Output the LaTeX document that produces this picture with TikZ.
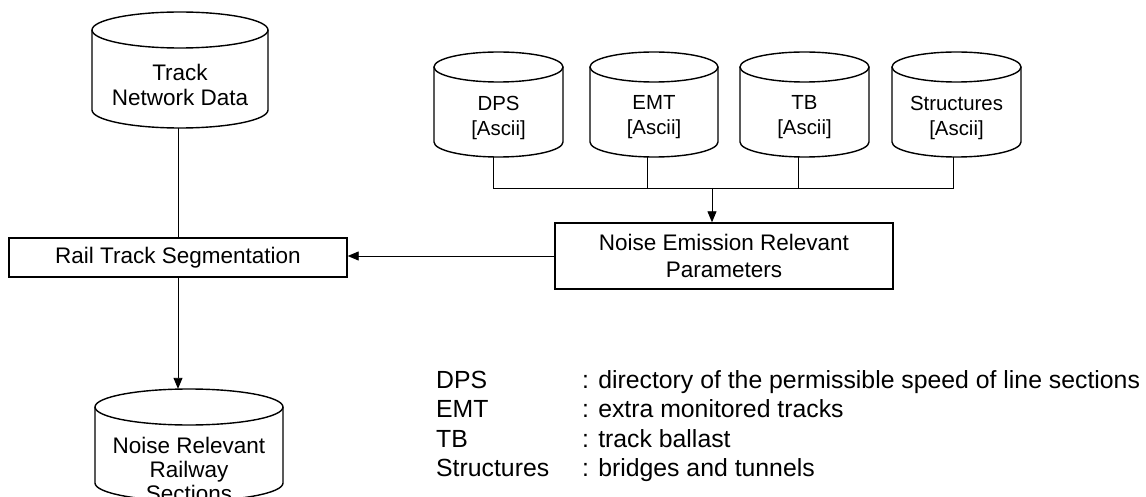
\documentclass[tikz,border=0pt]{standalone}
\usepackage{fontspec}
\setmainfont{Liberation Sans}
\usetikzlibrary{arrows.meta}
\tikzset{
  cylline/.style={line width=1.4pt, black},
  cylbox/.style={inner sep=0pt, draw=none},
  cyltext/.style={align=center, font=\fontsize{22.5}{25}\selectfont, inner sep=0pt},
  cyltextb/.style={align=center, font=\fontsize{22.5}{24}\selectfont, inner sep=0pt},
  smalltext/.style={align=center, font=\fontsize{20.4}{25}\selectfont, inner sep=0pt},
  procbox/.style={draw, line width=1.4pt, inner sep=0pt, align=center, font=\fontsize{22.5}{27}\selectfont},
  conn/.style={line width=0.9pt},
  arr/.style={conn, -{Triangle[length=11pt,width=9pt]}},
  legend/.style={anchor=base west, inner sep=0pt, font=\fontsize{24.8}{29}\selectfont},
}
% name, left, right, top-ellipse y, bottom-ellipse y, ry, text y, text style, text
\newcommand{\dbcyl}[9]{%
  \node[cylbox, minimum width={(#3-#2)*1pt}, minimum height={(#5-#4+2*#6)*1pt}] (#1) at ({(#2+#3)/2}, {-(#4+#5)/2}) {};
  \draw[cylline] (#2,-#4) -- (#2,-#5) arc[start angle=180, end angle=360, x radius={(#3-#2)/2*1pt}, y radius=#6pt] -- (#3,-#4);
  \draw[cylline] ({(#2+#3)/2},-#4) ellipse[x radius={(#3-#2)/2*1pt}, y radius=#6pt];
  \node[#8] (#1-t) at ({(#2+#3)/2},-#7) {#9};
}
\begin{document}
\begin{tikzpicture}[x=1pt,y=1pt]
\useasboundingbox (0,0) rectangle (1146,-497);
\clip (0,0) rectangle (1146,-497);

\dbcyl{tnd}{92}{268}{30}{110}{18}{84.5}{cyltext}{Track\\Network Data}
\dbcyl{dps}{434}{563}{67}{142}{15}{117.5}{smalltext}{DPS\\{[}Ascii{]}}
\dbcyl{emt}{590}{718}{67}{142}{15}{117.5}{smalltext}{EMT\\{[}Ascii{]}}
\dbcyl{tb}{740}{869}{67}{142}{15}{117.5}{smalltext}{TB\\{[}Ascii{]}}
\dbcyl{str}{892}{1021}{67}{142}{15}{117.5}{smalltext}{Structures\\{[}Ascii{]}}
\dbcyl{nrrs}{95}{283}{407}{483}{18}{469}{cyltextb}{Noise Relevant\\Railway\\Sections}

\node[procbox, minimum width=338pt, minimum height=39pt] (rts) at (178,-257.5) {Rail Track Segmentation};
\node[procbox, minimum width=338pt, minimum height=66pt] (nerp) at (724,-256) {Noise Emission Relevant\\Parameters};

\coordinate (bus) at (712,-188);
\draw[conn] (rts.north) -- (rts.north |- tnd.south);
\draw[arr] (rts.south) -- (rts.south |- nrrs.north);
\draw[conn] ([xshift=-5pt]dps.south) -- ([xshift=-5pt]dps.south |- bus) -- ([xshift=-3pt]str.south |- bus) -- ([xshift=-3pt]str.south);
\draw[conn] ([xshift=-7pt]emt.south) -- ([xshift=-7pt]emt.south |- bus);
\draw[conn] ([xshift=-6pt]tb.south) -- ([xshift=-6pt]tb.south |- bus);
\draw[arr] (bus) -- (bus |- nerp.north);
\draw[arr] (nerp.west) -- (nerp.west -| rts.east);

\node[legend] (l1) at (436,-388) {DPS};
\node[legend] (d1) at (582,-388) {: directory of the permissible speed of line sections};
\node[legend] (l2) at (436,-417) {EMT};
\node[legend] (d2) at (582,-417) {: extra monitored tracks};
\node[legend] (l3) at (436,-447) {TB};
\node[legend] (d3) at (582,-447) {: track ballast};
\node[legend] (l4) at (436,-476) {Structures};
\node[legend] (d4) at (582,-476) {: bridges and tunnels};
\end{tikzpicture}
\end{document}
